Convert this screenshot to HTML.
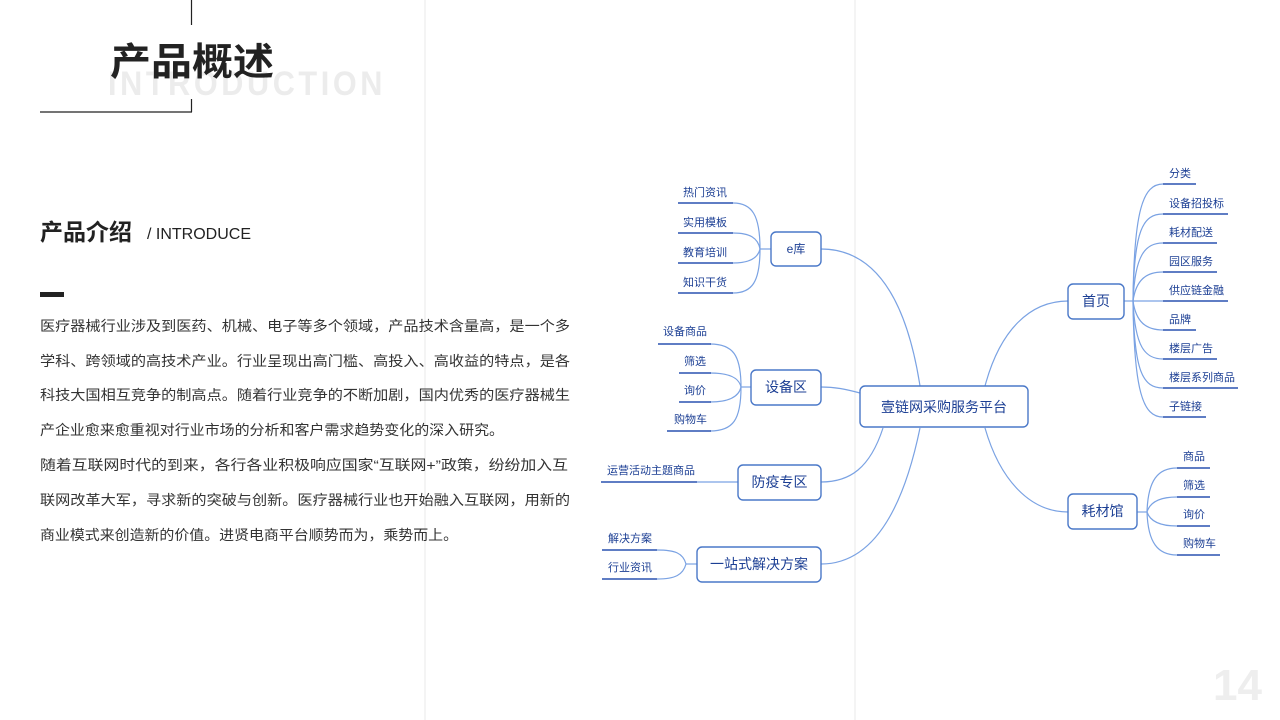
<!DOCTYPE html>
<html><head><meta charset="utf-8"><style>
html,body{margin:0;padding:0;background:#fff;}
svg{display:block;font-family:"Liberation Sans","Noto Sans CJK SC",sans-serif;}
.n{fill:#fff;stroke:#4a78c8;stroke-width:1.4;}
.c{fill:none;stroke:#7aa2e3;stroke-width:1.2;}
.u{stroke:#2a52b0;stroke-width:1.4;}
.nt{fill:#1c3f94;font-size:14px;text-anchor:middle;}
.lt{fill:#1c3f94;font-size:11px;}
.p{fill:#333;font-size:14px;}
</style></head><body>
<svg width="1280" height="720" viewBox="0 0 1280 720">
<line x1="425" y1="0" x2="425" y2="720" stroke="#f0f0f0" stroke-width="1.5"/>
<line x1="855" y1="0" x2="855" y2="720" stroke="#f0f0f0" stroke-width="1.5"/>
<line x1="191.5" y1="0" x2="191.5" y2="25" stroke="#222" stroke-width="1.2"/>
<line x1="191.5" y1="99" x2="191.5" y2="112" stroke="#222" stroke-width="1.2"/>
<line x1="40" y1="112" x2="192" y2="112" stroke="#222" stroke-width="1.2"/>
<text x="108" y="95" font-size="34" font-weight="bold" fill="#ececec" letter-spacing="4" textLength="278" lengthAdjust="spacingAndGlyphs">INTRODUCTION</text>
<text x="110" y="75" font-size="38" font-weight="bold" fill="#222" textLength="164" lengthAdjust="spacingAndGlyphs">产品概述</text>
<text x="40" y="240" font-size="23" font-weight="bold" fill="#222">产品介绍</text>
<text x="147" y="239" font-size="16" fill="#222">/ INTRODUCE</text>
<rect x="40" y="292" width="24" height="5" fill="#222"/>
<g class="p">
<text x="40" y="331" textLength="530" lengthAdjust="spacingAndGlyphs">医疗器械行业涉及到医药、机械、电子等多个领域，产品技术含量高，是一个多</text>
<text x="40" y="366" textLength="530" lengthAdjust="spacingAndGlyphs">学科、跨领域的高技术产业。行业呈现出高门槛、高投入、高收益的特点，是各</text>
<text x="40" y="400" textLength="530" lengthAdjust="spacingAndGlyphs">科技大国相互竞争的制高点。随着行业竞争的不断加剧，国内优秀的医疗器械生</text>
<text x="40" y="435" textLength="464" lengthAdjust="spacingAndGlyphs">产企业愈来愈重视对行业市场的分析和客户需求趋势变化的深入研究。</text>
<text x="40" y="470" textLength="528" lengthAdjust="spacingAndGlyphs">随着互联网时代的到来，各行各业积极响应国家“互联网+”政策，纷纷加入互</text>
<text x="40" y="505" textLength="530" lengthAdjust="spacingAndGlyphs">联网改革大军，寻求新的突破与创新。医疗器械行业也开始融入互联网，用新的</text>
<text x="40" y="540" textLength="418" lengthAdjust="spacingAndGlyphs">商业模式来创造新的价值。进贤电商平台顺势而为，乘势而上。</text>
</g>
<text x="1213" y="700" font-size="44" font-weight="bold" fill="#eeeeee">14</text>

<!-- main connectors -->
<path class="c" d="M920,386 C905,290 870,249 821,249"/>
<path class="c" d="M860,393 C845,389 835,387 821,387"/>
<path class="c" d="M883,428 C870,468 850,482 821,482"/>
<path class="c" d="M920,428 C900,525 865,564 821,564"/>
<path class="c" d="M985,386 C1000,330 1030,301 1068,301"/>
<path class="c" d="M985,428 C1000,480 1030,512 1068,512"/>

<!-- e库 leaves -->
<g class="c"><path d="M771,249 L760,249"/>
<path d="M760,249 C760,215 752,203 733,203"/>
<path d="M760,249 C758,238 750,233 733,233"/>
<path d="M760,249 C758,258 750,263 733,263"/>
<path d="M760,249 C760,282 752,293 733,293"/></g>
<g class="u"><line x1="678" y1="203" x2="733" y2="203"/><line x1="678" y1="233" x2="733" y2="233"/><line x1="678" y1="263" x2="733" y2="263"/><line x1="678" y1="293" x2="733" y2="293"/></g>
<g class="lt"><text x="683" y="196">热门资讯</text><text x="683" y="226">实用模板</text><text x="683" y="256">教育培训</text><text x="683" y="286">知识干货</text></g>

<!-- 设备区 leaves -->
<g class="c"><path d="M751,387 L741,387"/>
<path d="M741,387 C741,355 733,344 710,344"/>
<path d="M741,387 C739,378 730,373 710,373"/>
<path d="M741,387 C739,396 730,402 710,402"/>
<path d="M741,387 C741,420 733,431 710,431"/></g>
<g class="u"><line x1="658" y1="344" x2="711" y2="344"/><line x1="679" y1="373" x2="711" y2="373"/><line x1="679" y1="402" x2="711" y2="402"/><line x1="667" y1="431" x2="711" y2="431"/></g>
<g class="lt"><text x="663" y="335">设备商品</text><text x="684" y="365">筛选</text><text x="684" y="394">询价</text><text x="674" y="423">购物车</text></g>

<!-- 防疫 -->
<line class="c" x1="697" y1="482" x2="738" y2="482"/>
<line class="u" x1="601" y1="482" x2="697" y2="482"/>
<text class="lt" x="607" y="474">运营活动主题商品</text>

<!-- 一站式 -->
<g class="c"><path d="M697,564 L686,564"/>
<path d="M686,564 C683,553 675,550 657,550"/>
<path d="M686,564 C683,575 675,579 657,579"/></g>
<g class="u"><line x1="602" y1="550" x2="657" y2="550"/><line x1="602" y1="579" x2="657" y2="579"/></g>
<g class="lt"><text x="608" y="542">解决方案</text><text x="608" y="571">行业资讯</text></g>

<!-- 首页 leaves -->
<g class="c"><path d="M1124,301 L1133,301"/>
<path d="M1133,301 C1134,210 1143,184 1163,184"/>
<path d="M1133,301 C1134,230 1143,214 1163,214"/>
<path d="M1133,301 C1135,255 1145,243 1163,243"/>
<path d="M1133,301 C1136,280 1146,272 1163,272"/>
<path d="M1133,301 L1163,301"/>
<path d="M1133,301 C1136,322 1146,330 1163,330"/>
<path d="M1133,301 C1135,347 1145,359 1163,359"/>
<path d="M1133,301 C1134,372 1143,388 1163,388"/>
<path d="M1133,301 C1134,392 1143,417 1163,417"/></g>
<g class="u"><line x1="1163" y1="184" x2="1196" y2="184"/><line x1="1163" y1="214" x2="1228" y2="214"/><line x1="1163" y1="243" x2="1217" y2="243"/><line x1="1163" y1="272" x2="1217" y2="272"/><line x1="1163" y1="301" x2="1228" y2="301"/><line x1="1163" y1="330" x2="1196" y2="330"/><line x1="1163" y1="359" x2="1217" y2="359"/><line x1="1163" y1="388" x2="1238" y2="388"/><line x1="1163" y1="417" x2="1206" y2="417"/></g>
<g class="lt"><text x="1169" y="177">分类</text><text x="1169" y="207">设备招投标</text><text x="1169" y="236">耗材配送</text><text x="1169" y="265">园区服务</text><text x="1169" y="294">供应链金融</text><text x="1169" y="323">品牌</text><text x="1169" y="352">楼层广告</text><text x="1169" y="381">楼层系列商品</text><text x="1169" y="410">子链接</text></g>

<!-- 耗材馆 leaves -->
<g class="c"><path d="M1137,512 L1147,512"/>
<path d="M1147,512 C1148,480 1158,468 1177,468"/>
<path d="M1147,512 C1150,502 1160,497 1177,497"/>
<path d="M1147,512 C1150,521 1160,526 1177,526"/>
<path d="M1147,512 C1148,543 1158,555 1177,555"/></g>
<g class="u"><line x1="1177" y1="468" x2="1210" y2="468"/><line x1="1177" y1="497" x2="1210" y2="497"/><line x1="1177" y1="526" x2="1210" y2="526"/><line x1="1177" y1="555" x2="1220" y2="555"/></g>
<g class="lt"><text x="1183" y="460">商品</text><text x="1183" y="489">筛选</text><text x="1183" y="518">询价</text><text x="1183" y="547">购物车</text></g>

<!-- nodes -->
<rect class="n" x="860" y="386" width="168" height="41" rx="5"/><text class="nt" x="944" y="412">壹链网采购服务平台</text>
<rect class="n" x="771" y="232" width="50" height="34" rx="5"/><text class="nt" x="796" y="253" style="font-size:12px">e库</text>
<rect class="n" x="751" y="370" width="70" height="35" rx="5"/><text class="nt" x="786" y="392">设备区</text>
<rect class="n" x="738" y="465" width="83" height="35" rx="5"/><text class="nt" x="779.5" y="487">防疫专区</text>
<rect class="n" x="697" y="547" width="124" height="35" rx="5"/><text class="nt" x="759" y="569">一站式解决方案</text>
<rect class="n" x="1068" y="284" width="56" height="35" rx="5"/><text class="nt" x="1096" y="306">首页</text>
<rect class="n" x="1068" y="494" width="69" height="35" rx="5"/><text class="nt" x="1102.5" y="516">耗材馆</text>
</svg>
</body></html>
